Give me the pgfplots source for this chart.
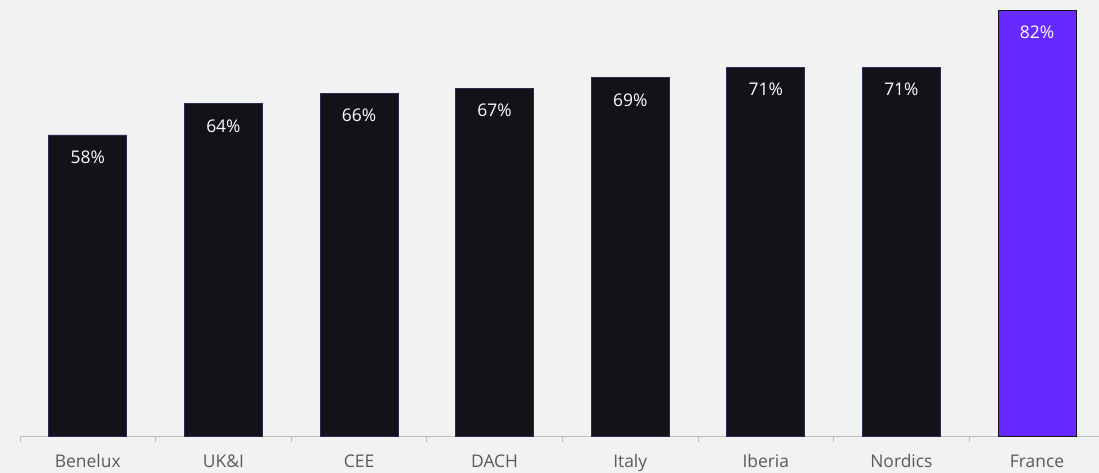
\documentclass[border=0pt]{standalone}
\usepackage{pgfplots}
\pgfplotsset{compat=1.18}
\usepackage{fontspec}
\setmainfont{Open Sans}
\definecolor{bg}{HTML}{F1F2F2}
\definecolor{barc}{HTML}{141118}
\definecolor{baredge}{HTML}{2B2A55}
\definecolor{fr}{HTML}{6629FF}
\definecolor{lab}{HTML}{5A5A5A}
\definecolor{axc}{HTML}{BDBDBD}
\begin{document}
\begin{tikzpicture}
\fill[bg] (-20bp,-37bp) rectangle (1079bp,436bp);
\useasboundingbox (-20bp,-37bp) rectangle (1079bp,436bp);
\begin{axis}[
  scale only axis,
  width=1079bp, height=436bp,
  xmin=-0.5, xmax=7.457,
  ymin=0, ymax=84,
  /pgf/number format/assume math mode=true,
  axis x line*=bottom,
  axis y line=none,
  x axis line style={axc, line width=0.8bp},
  xtick={0,...,7},
  xticklabels={Benelux,UK\&I,CEE,DACH,Italy,Iberia,Nordics,France},
  major tick length=0pt,
  minor xtick={-0.5,0.5,1.5,2.5,3.5,4.5,5.5,6.5},
  minor tick length=6bp,
  tick align=outside,
  minor tick style={axc, line width=0.8bp},
  xticklabel style={font=\fontsize{17.5}{19}\selectfont, text=lab, anchor=base, yshift=-32bp},
  ybar, bar width=78bp,
  nodes near coords={\pgfmathprintnumber[assume math mode=true]{\pgfplotspointmeta}\%},
  every node near coord/.append style={anchor=north, yshift=-12bp, white, font=\fontsize{17.5}{19}\selectfont},
  clip=false,
]
\addplot[fill=barc, draw=baredge, line width=0.8bp, bar shift=0pt] coordinates {(0,58) (1,64) (2,66) (3,67) (4,69) (5,71) (6,71)};
\addplot[fill=fr, draw=barc, line width=0.8bp, bar shift=0pt] coordinates {(7,82)};
\end{axis}
\end{tikzpicture}
\end{document}
